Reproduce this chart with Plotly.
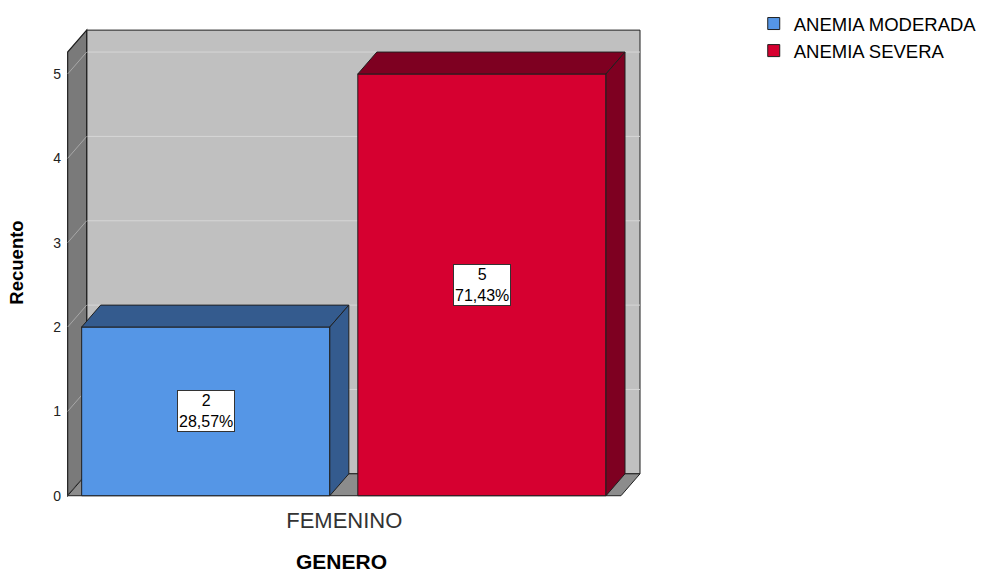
import plotly.graph_objects as go

# --- data ---------------------------------------------------------------
categories = ["FEMENINO"]
series_names = ["ANEMIA MODERADA", "ANEMIA SEVERA"]
counts = [2, 5]
y_ticks = [0, 1, 2, 3, 4, 5]
x_title = "GENERO"
y_title = "Recuento"

front_colors = ["#5596e6", "#d60030"]
shade_colors = ["#345b8e", "#7e0021"]
edge_color = "#1f1f1f"
FONT = "Liberation Sans, Arial, sans-serif"

total = sum(counts)
percents = [f"{100 * c / total:.2f}".replace(".", ",") + "%" for c in counts]

# --- 3-D box geometry (axis units) ---------------------------------------
DX = 0.0344          # depth shift along x
DY = 0.26            # depth shift along y
Y_TOP = 5.26         # height of the front frame
X_L, X_R = -0.5, 0.5 # front frame edges around the category
BAR_W = 248 / 553
EDGE = 14 / 553
GAP = 28 / 553
offsets = [X_L + EDGE + i * (BAR_W + GAP) for i in range(len(counts))]

fig = go.Figure()

for name, c, off, col in zip(series_names, counts, offsets, front_colors):
    fig.add_trace(go.Bar(
        x=[0], y=[c], name=name, offset=off, width=BAR_W,
        marker=dict(color=col, line=dict(color=edge_color, width=1)),
        hoverinfo="skip",
    ))

shapes = []
# back wall
shapes.append(dict(type="rect", xref="x", yref="y", layer="below",
                   x0=X_L + DX, x1=X_R + DX, y0=DY, y1=Y_TOP + DY,
                   fillcolor="#c0c0c0", line=dict(color=edge_color, width=1)))
for k in y_ticks[1:]:
    shapes.append(dict(type="line", xref="x", yref="y", layer="below",
                       x0=X_L + DX, x1=X_R + DX, y0=k + DY, y1=k + DY,
                       line=dict(color="#d6d6d6", width=1)))
# left side wall
shapes.append(dict(type="path", xref="x", yref="y", layer="below",
                   path=f"M {X_L},0 L {X_L + DX},{DY} L {X_L + DX},{Y_TOP + DY} L {X_L},{Y_TOP} Z",
                   fillcolor="#7a7a7a", line=dict(color=edge_color, width=1.2)))
for k in y_ticks:
    shapes.append(dict(type="line", xref="x", yref="y", layer="below",
                       x0=X_L, x1=X_L + DX, y0=k, y1=k + DY,
                       line=dict(color="#a8a8a8", width=1)))
# floor
shapes.append(dict(type="path", xref="x", yref="y", layer="below",
                   path=f"M {X_L},0 L {X_R},0 L {X_R + DX},{DY} L {X_L + DX},{DY} Z",
                   fillcolor="#8c8c8c", line=dict(color=edge_color, width=1)))

# top and side faces of each bar
for c, off, shade in zip(counts, offsets, shade_colors):
    x0, x1 = off, off + BAR_W
    shapes.append(dict(type="path", xref="x", yref="y",
                       path=f"M {x0},{c} L {x0 + DX},{c + DY} L {x1 + DX},{c + DY} L {x1},{c} Z",
                       fillcolor=shade, line=dict(color=edge_color, width=1)))
    shapes.append(dict(type="path", xref="x", yref="y",
                       path=f"M {x1},0 L {x1 + DX},{DY} L {x1 + DX},{c + DY} L {x1},{c} Z",
                       fillcolor=shade, line=dict(color=edge_color, width=1)))

annotations = []
for c, p, off in zip(counts, percents, offsets):
    annotations.append(dict(
        x=off + BAR_W / 2, y=c / 2, xref="x", yref="y",
        text=f"{c}<br>{p}", showarrow=False,
        font=dict(family=FONT, size=16, color="#000000"),
        bgcolor="#ffffff", bordercolor="#333333", borderwidth=1, borderpad=1,
    ))
# horizontal axis title, centred under the front frame
annotations.append(dict(
    x=0.479, y=-0.138, xref="paper", yref="paper", xanchor="center", yanchor="middle",
    text=f"<b>{x_title}</b>", showarrow=False,
    font=dict(family=FONT, size=21, color="#000000"),
))

fig.update_layout(
    width=981, height=574,
    margin=dict(l=66, r=339, t=28, b=77, autoexpand=False),
    paper_bgcolor="#ffffff", plot_bgcolor="rgba(0,0,0,0)",
    barmode="overlay",
    font=dict(family=FONT, color="#000000"),
    shapes=shapes, annotations=annotations,
    showlegend=True,
    legend=dict(x=1.194, y=1.049, xanchor="left", yanchor="top",
                font=dict(family=FONT, size=18.5, color="#000000"),
                bgcolor="rgba(0,0,0,0)", traceorder="normal"),
    xaxis=dict(range=[-0.503, 0.538], tickvals=[0], ticktext=categories,
               showgrid=False, zeroline=False, showline=False, ticks="",
               ticklabelstandoff=8, automargin=False,
               tickfont=dict(size=22, color="#333333")),
    yaxis=dict(range=[-0.015, 5.545], tickvals=y_ticks,
               showgrid=False, zeroline=False, showline=False, ticks="",
               automargin=False, ticklabelstandoff=4,
               tickfont=dict(size=14, color="#222222"),
               title=dict(text=f"<b>{y_title}</b>", font=dict(size=18.5), standoff=24)),
)

fig.write_html("out.html")
